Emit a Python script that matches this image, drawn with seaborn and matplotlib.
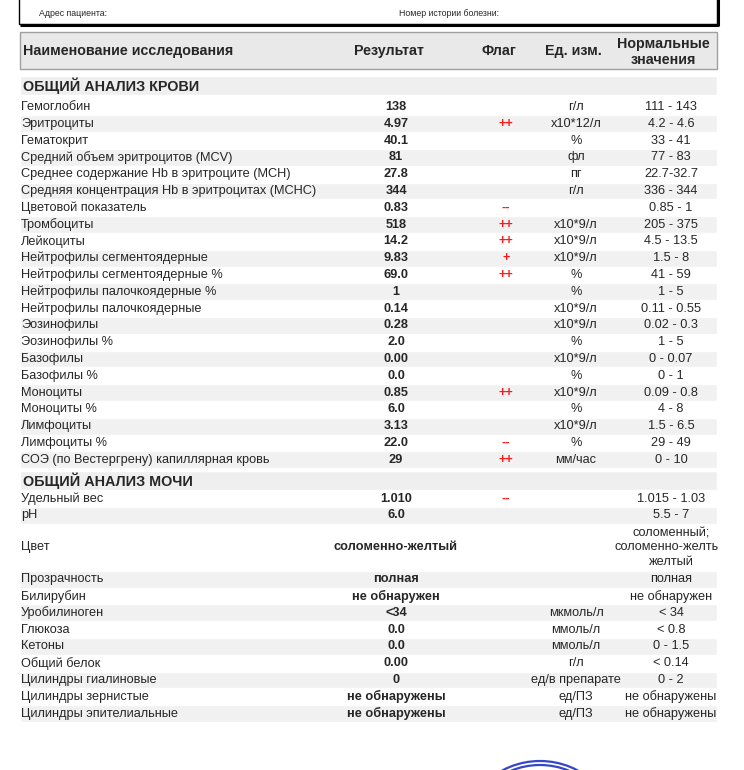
import numpy as np
import matplotlib.pyplot as plt
import seaborn as sns
from matplotlib.patches import Rectangle, Circle

# Данные: общий анализ крови
blood_names = [
    "Гемоглобин", "Эритроциты", "Гематокрит", "Средний объем эритроцитов (MCV)",
    "Среднее содержание Hb в эритроците (MCH)",
    "Средняя концентрация Hb в эритроцитах (MCHC)", "Цветовой показатель",
    "Тромбоциты", "Лейкоциты", "Нейтрофилы сегментоядерные",
    "Нейтрофилы сегментоядерные %", "Нейтрофилы палочкоядерные %",
    "Нейтрофилы палочкоядерные", "Эозинофилы", "Эозинофилы %", "Базофилы",
    "Базофилы %", "Моноциты", "Моноциты %", "Лимфоциты", "Лимфоциты %",
    "СОЭ (по Вестергрену) капиллярная кровь",
]
blood_results = ["138", "4.97", "40.1", "81", "27.8", "344", "0.83", "518", "14.2",
                 "9.83", "69.0", "1", "0.14", "0.28", "2.0", "0.00", "0.0", "0.85",
                 "6.0", "3.13", "22.0", "29"]
blood_flags = ["", "++", "", "", "", "", "--", "++", "++", "+", "++", "", "", "", "",
               "", "", "++", "", "", "--", "++"]
blood_units = ["г/л", "x10*12/л", "%", "фл", "пг", "г/л", "", "x10*9/л", "x10*9/л",
               "x10*9/л", "%", "%", "x10*9/л", "x10*9/л", "%", "x10*9/л", "%",
               "x10*9/л", "%", "x10*9/л", "%", "мм/час"]
blood_norms = ["111 - 143", "4.2 - 4.6", "33 - 41", "77 - 83", "22.7-32.7", "336 - 344",
               "0.85 - 1", "205 - 375", "4.5 - 13.5", "1.5 - 8", "41 - 59", "1 - 5",
               "0.11 - 0.55", "0.02 - 0.3", "1 - 5", "0 - 0.07", "0 - 1", "0.09 - 0.8",
               "4 - 8", "1.5 - 6.5", "29 - 49", "0 - 10"]

# Данные: общий анализ мочи
urine_names = ["Удельный вес", "pH", "Цвет", "Прозрачность", "Билирубин", "Уробилиноген",
               "Глюкоза", "Кетоны", "Общий белок", "Цилиндры гиалиновые",
               "Цилиндры зернистые", "Цилиндры эпителиальные"]
urine_results = ["1.010", "6.0", "соломенно-желтый", "полная", "не обнаружен", "<34",
                 "0.0", "0.0", "0.00", "0", "не обнаружены", "не обнаружены"]
urine_flags = ["--", "", "", "", "", "", "", "", "", "", "", ""]
urine_units = ["", "", "", "", "", "мкмоль/л", "ммоль/л", "ммоль/л", "г/л",
               "ед/в препарате", "ед/ПЗ", "ед/ПЗ"]
urine_norms = ["1.015 - 1.03", "5.5 - 7", "соломенный;\nсоломенно-желтый\nжелтый", "полная",
               "не обнаружен", "< 34", "< 0.8", "0 - 1.5", "< 0.14", "0 - 2",
               "не обнаружены", "не обнаружены"]

header = ["Наименование исследования", "Результат", "Флаг", "Ед. изм.", "Нормальные\nзначения"]

sns.set_theme(style="white")
plt.rcParams['font.family'] = ['Liberation Sans', 'DejaVu Sans']

fig = plt.figure(figsize=(7.44, 7.70), dpi=100)
ax = fig.add_axes([0, 0, 1, 1])
ax.set_xlim(0, 744)
ax.set_ylim(770, 0)
ax.axis('off')

LEFT, RIGHT = 20, 717
X_NAME, X_RES, X_FLAG, X_UNIT, X_NORM = 21, 396, 506, 576, 671
RH = 16.8
FS = 9.2
HFS = 10.3
red = "#ff1a1a"

# шапка пациента
ax.add_patch(Rectangle((19, -10), 698, 34, facecolor='white', edgecolor='black', lw=1))
ax.plot([718, 718, 20], [-10, 25, 25], color='black', lw=2.2, solid_capstyle='butt')
ax.text(39, 13, "Адрес пациента:", fontsize=6.3, va='center',
        family=['Liberation Sans Narrow', 'Liberation Sans'])
ax.text(399, 13, "Номер истории болезни:", fontsize=6.3, va='center',
        family=['Liberation Sans Narrow', 'Liberation Sans'])

# заголовок таблицы
ax.add_patch(Rectangle((LEFT, 32), RIGHT - LEFT, 37, facecolor='#e9e9e9',
                       edgecolor='#a0a0a0', lw=1))
ax.text(23, 51, header[0], fontsize=HFS, fontweight='bold', va='center')
ax.text(389, 51, header[1], fontsize=HFS, fontweight='bold', va='center', ha='center')
ax.text(499, 51, header[2], fontsize=HFS, fontweight='bold', va='center', ha='center')
ax.text(573, 51, header[3], fontsize=HFS, fontweight='bold', va='center', ha='center')
ax.text(663, 52, header[4], fontsize=HFS, fontweight='bold', va='center', ha='center',
        linespacing=1.1)

clip = Rectangle((0, 0), 718, 770, transform=ax.transData, visible=False)
ax.add_patch(clip)


def section(title, y):
    ax.barh([y], [RIGHT - LEFT], left=LEFT, height=19, color='#efefef')
    ax.text(23, y + 0.5, title, fontsize=10.4, fontweight='bold', va='center')


def rows(names, results, flags, units, norms, y0, heights):
    hs = np.array(heights) * RH
    centers = y0 + np.cumsum(hs) - hs / 2
    shade = np.arange(len(names)) % 2 == 1
    ax.barh(centers[shade], RIGHT - LEFT, left=LEFT, height=hs[shade], color='#f1f1f1')
    for i, y in enumerate(centers):
        ax.text(X_NAME, y, names[i], fontsize=FS, va='center')
        ax.text(X_RES, y, results[i], fontsize=FS, va='center', ha='center', fontweight='bold')
        ax.text(X_FLAG, y, flags[i], fontsize=FS, va='center', ha='center', color=red,
                fontweight='bold')
        ax.text(X_UNIT, y, units[i], fontsize=FS, va='center', ha='center')
        t = ax.text(X_NORM, y, norms[i], fontsize=FS, va='center', ha='center',
                    linespacing=1.25, clip_on=True)
        t.set_clip_path(clip)
    return y0 + hs.sum()


section("ОБЩИЙ АНАЛИЗ КРОВИ", 85)
end = rows(blood_names, blood_results, blood_flags, blood_units, blood_norms,
           107 - RH / 2, [1] * len(blood_names))
section("ОБЩИЙ АНАЛИЗ МОЧИ", end + 12)
urine_h = [1] * len(urine_names)
urine_h[2] = 2.8
rows(urine_names, urine_results, urine_flags, urine_units, urine_norms,
     end + 22, urine_h)

# печать внизу
for r in (80, 76):
    ax.add_patch(Circle((540, 841), r, fill=False, edgecolor='#3347c8', lw=1.6))

fig.savefig("out.png", dpi=100)
